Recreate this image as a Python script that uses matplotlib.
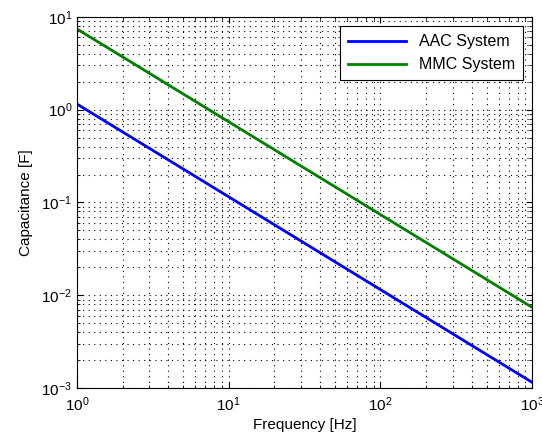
import matplotlib
matplotlib.use("Agg")
import matplotlib.pyplot as plt

freq = [1, 1000]
aac = [1.15, 1.15e-3]
mmc = [7.4, 7.4e-3]
labels = ["AAC System", "MMC System"]

plt.rcParams['font.family'] = ['Liberation Sans', 'DejaVu Sans']
plt.rcParams['mathtext.fontset'] = 'custom'
plt.rcParams['mathtext.rm'] = 'Liberation Sans'
plt.rcParams['mathtext.it'] = 'Liberation Sans'

fig = plt.figure(figsize=(5.42, 4.44), dpi=100)
ax = fig.add_axes([0.142, 0.126, 0.840, 0.836])
ax.loglog(freq, aac, color=(0, 0, 1), lw=2, label=labels[0])
ax.loglog(freq, mmc, color=(0, 0.5, 0), lw=2, label=labels[1])
ax.set_xlim(1, 1000)
ax.set_ylim(1e-3, 10)
ax.grid(True, which='both', color='black', linestyle=(0, (1, 4)), lw=0.8)
ax.tick_params(which='both', direction='in', top=True, right=True, labelsize=11)
ax.tick_params(which='major', length=4)
ax.tick_params(which='minor', length=2)
ax.tick_params(axis='x', pad=5)
for s in ax.spines.values():
    s.set_linewidth(0.8)
ax.set_xlabel("Frequency [Hz]", fontsize=11, labelpad=3)
ax.set_ylabel("Capacitance [F]", fontsize=11, labelpad=6)
leg = ax.legend(loc='upper right', fontsize=11.5, fancybox=False, framealpha=1,
                edgecolor='black', borderaxespad=0.6, handlelength=3.6,
                borderpad=0.5, labelspacing=0.5)
leg.get_frame().set_linewidth(0.8)
fig.savefig("out.png", dpi=100)
